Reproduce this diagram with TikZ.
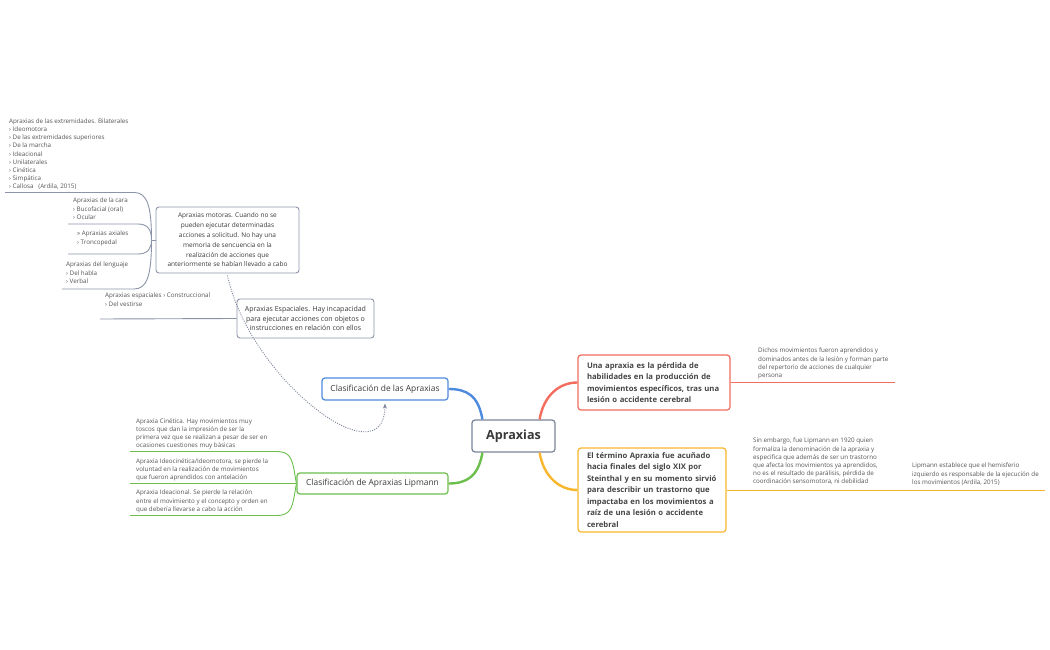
\documentclass[tikz,border=0pt]{standalone}
\usepackage{fontspec}
\setmainfont{Open Sans}
\usetikzlibrary{arrows.meta}
\definecolor{cblue}{HTML}{4E8BDF}
\definecolor{cred}{HTML}{F26D5E}
\definecolor{corange}{HTML}{F8B62D}
\definecolor{cgreen}{HTML}{6CBF4C}
\definecolor{cgray}{HTML}{8C95A8}
\definecolor{ccenter}{HTML}{7A8498}
\definecolor{tdark}{HTML}{3A3A3A}
\definecolor{tmain}{HTML}{454545}
\definecolor{tleaf}{HTML}{555555}
\begin{document}
\begin{tikzpicture}[x=1pt,y=-1pt,
  leaf/.style={anchor=north west,inner sep=0pt,align=left,text=tleaf,font=\fontsize{6.25}{8.15}\selectfont},
  subtopic/.style={draw=cgray,line width=0.9pt,rounded corners=3pt,fill=white,align=center,text=tdark,inner sep=0pt,font=\fontsize{6.5}{9.8}\selectfont},
  maintopic/.style={line width=1.2pt,rounded corners=3pt,fill=white,align=left,text=tmain,inner sep=0pt,font=\fontsize{7.7}{11.5}\selectfont\bfseries},
  clbox/.style={line width=1.2pt,rounded corners=3pt,fill=white,align=center,text=tdark,inner sep=0pt,font=\fontsize{8.4}{10}\selectfont},
  branch/.style={line width=2.4pt},
  leafline/.style={line width=0.9pt},
  relline/.style={draw=ccenter,line width=0.9pt,dash pattern=on 1pt off 1.3pt}
]
\useasboundingbox (0,0) rectangle (1050,650);
\fill[white] (0,0) rectangle (1050,650);

% central
\node[draw=ccenter,line width=1.2pt,rounded corners=3pt,fill=white,minimum width=83pt,minimum height=32pt,inner sep=0pt,text=tdark,font=\fontsize{12.6}{14}\selectfont\bfseries] (c) at (513.5,436) {Apraxias};

% level 1
\node[clbox,draw=cblue,minimum width=126pt,minimum height=22pt] (cl) at (385,389) {Clasificación de las Apraxias};
\node[clbox,draw=cgreen,minimum width=151pt,minimum height=21pt] (lp) at (372.5,483.5) {Clasificación de Apraxias Lipmann};
\node[maintopic,draw=cred,minimum width=152pt,minimum height=55pt,text width=134pt] (ua) at (654,382.5) {Una apraxia es la pérdida de\\habilidades en la producción de\\movimientos específicos, tras una\\lesión o accidente cerebral};
\node[maintopic,draw=corange,minimum width=148pt,minimum height=84pt,text width=130pt] (et) at (652,490) {El término Apraxia fue acuñado\\hacia finales del siglo XIX por\\Steinthal y en su momento sirvió\\para describir un trastorno que\\impactaba en los movimientos a\\raíz de una lesión o accidente\\cerebral};

% floating subtopics
\node[subtopic,minimum width=143pt,minimum height=66pt] (mo) at (227.5,240) {Apraxias motoras. Cuando no se\\pueden ejecutar determinadas\\acciones a solicitud. No hay una\\memoria de sencuencia en la\\realización de acciones que\\anteriormente se habían llevado a cabo};
\node[subtopic,minimum width=137pt,minimum height=39pt,font=\fontsize{7}{9.8}\selectfont] (es) at (305.5,318.5) {Apraxias Espaciales. Hay incapacidad\\para ejecutar acciones con objetos o\\instrucciones en relación con ellos};

% main branches
\draw[branch,cblue] ([xshift=11pt]c.north west) .. controls +(-4,-24) and +(18,0) .. (cl.east);
\draw[branch,cgreen] ([xshift=11pt]c.south west) .. controls +(-4,24) and +(18,0) .. (lp.east);
\draw[branch,cred] ([xshift=-16pt]c.north east) .. controls +(4,-24) and +(-18,0) .. (ua.west);
\draw[branch,corange] ([xshift=-16pt]c.south east) .. controls +(4,24) and +(-18,0) .. (et.west);

% right leaves
\coordinate (ua1) at (895,382.5);
\draw[leafline,cred] (ua.east) -- (ua1);
\node[leaf] (d1) at (758,348) {Dichos movimientos fueron aprendidos y\\dominados antes de la lesión y forman parte\\del repertorio de acciones de cualquier\\persona};

\coordinate (et1) at (1045,490);
\draw[leafline,corange] (et.east) -- (et1);
\node[leaf] (s1) at (753,438) {Sin embargo, fue Lipmann en 1920 quien\\formaliza la denominación de la apraxia y\\especifica que además de ser un trastorno\\que afecta los movimientos ya aprendidos,\\no es el resultado de parálisis, pérdida de\\coordinación sensomotora, ni debilidad};
\node[leaf] (s2) at (912,463) {Lipmann establece que el hemisferio\\izquierdo es responsable de la ejecución de\\los movimientos (Ardila, 2015)};

% Lipmann leaves
\coordinate (l1) at (130,451.5);
\coordinate (l2) at (130,483.5);
\coordinate (l3) at (130,515.5);
\draw[leafline,cgreen] (lp.west) .. controls +(-4,-24) and +(16,0) .. (276,451.5) -- (l1);
\draw[leafline,cgreen] (lp.west) -- (l2);
\draw[leafline,cgreen] (lp.west) .. controls +(-4,24) and +(16,0) .. (276,515.5) -- (l3);
\node[leaf] (k1) at (136,418.5) {Apraxia Cinética. Hay movimientos muy\\toscos que dan la impresión de ser la\\primera vez que se realizan a pesar de ser en\\ocasiones cuestiones muy básicas};
\node[leaf] (k2) at (136,458.5) {Apraxia Ideocinética/Ideomotora, se pierde la\\voluntad en la realización de movimientos\\que fueron aprendidos con antelación};
\node[leaf] (k3) at (136,490) {Apraxia Ideacional. Se pierde la relación\\entre el movimiento y el concepto y orden en\\que debería llevarse a cabo la acción};

% motoras leaves
\coordinate (mj) at (151.5,240);
\coordinate (m1) at (5,192.5);
\coordinate (m2) at (68,224);
\coordinate (m3) at (68,254);
\coordinate (m4) at (62,289);
\draw[leafline,cgray] (mo.west) -- (mj);
\draw[leafline,cgray] (mj) .. controls (151.5,205) and (147,192.5) .. (134,192.5) -- (m1);
\draw[leafline,cgray] (mj) .. controls (151.5,230) and (148,224) .. (138,224) -- (m2);
\draw[leafline,cgray] (mj) .. controls (151.5,248) and (148,254) .. (138,254) -- (m3);
\draw[leafline,cgray] (mj) .. controls (151.5,276) and (147,289) .. (134,289) -- (m4);
\node[leaf] (t1) at (9,118.5) {Apraxias de las extremidades. Bilaterales\\› Ideomotora\\› De las extremidades superiores\\› De la marcha\\› Ideacional\\› Unilaterales\\› Cinética\\› Simpática\\› Callosa \ \ (Ardila, 2015)};
\node[leaf] (t2) at (73,198) {Apraxias de la cara\\› Bucofacial (oral)\\› Ocular};
\node[leaf] (t3) at (77,231) {» Apraxias axiales\\› Troncopedal};
\node[leaf] (t4) at (66,262) {Apraxias del lenguaje\\› Del habla\\› Verbal};

% espaciales leaf
\coordinate (e1) at (100,319);
\draw[leafline,cgray] (es.west) -- (e1);
\node[leaf] (t5) at (105,293) {Apraxias espaciales › Construccional\\› Del vestirse};

% relationship
\draw[relline,-{Stealth[length=5pt,width=4pt]}] ([yshift=-2pt]mo.south) .. controls (250,380) and (384,480) .. ([yshift=-3pt]cl.south);
\end{tikzpicture}
\end{document}
